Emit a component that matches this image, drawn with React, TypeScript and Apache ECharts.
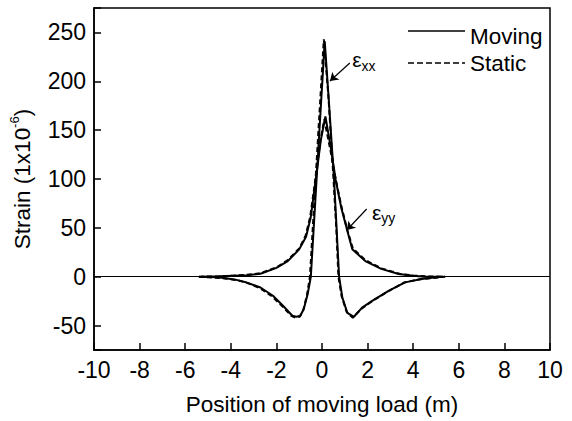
import React, { useEffect, useRef } from "react";
import * as echarts from "echarts";

const FONT = "Liberation Sans";

const xTicks = [-10, 10];
const yRange = [-75, 275];
const legendNames = ["Moving", "Static"];

const xxMovingX = [-5.3,-4.6,-4.2,-3.8,-3.3,-2.7,-2.15,-1.7,-1.3,-1.12,-0.95,-0.8,-0.63,-0.49,-0.3,-0.1,0.12,0.3,0.53,0.65,0.75,0.89,1.11,1.4,1.76,2.2,2.92,3.64,4.37,5.0,5.3];
const xxMovingY = [0,-0.5,-1.5,-3,-6,-11,-19.5,-30,-40,-41,-40,-33,-18,0,75,155,241,180,99,45,0,-21,-37,-41,-31.6,-24.7,-14.4,-5.8,-2.4,-0.5,0];

const xxStaticX = [-5.4,-4.7,-4.2,-3.7,-3.2,-2.7,-2.2,-1.75,-1.35,-1.15,-0.98,-0.82,-0.66,-0.53,-0.35,-0.15,0.08,0.28,0.5,0.63,0.72,0.86,1.08,1.35,1.72,2.2,2.9,3.6,4.3,5.0,5.4];
const xxStaticY = [0,-1,-2,-3.5,-7,-12,-20,-30,-40,-42,-41,-34,-19,0,72,152,243,185,102,48,0,-20,-36,-42,-33,-25,-15,-6,-2.5,-1,0];

const yyMovingX = [-5.3,-4.5,-3.9,-3.3,-2.7,-2.0,-1.5,-1.0,-0.7,-0.5,-0.27,-0.05,0.15,0.4,0.6,0.85,1.11,1.33,1.9,2.6,3.36,4.0,4.5,5.3];
const yyMovingY = [0,0.5,1,1.5,3,9,16,28,41,60,100,140,164,130,99,70,47,28,16,8,2.7,1,0,0];

const yyStaticX = [-5.4,-4.6,-3.9,-3.3,-2.7,-2.0,-1.5,-1.0,-0.72,-0.52,-0.3,-0.08,0.1,0.38,0.6,0.85,1.11,1.35,1.9,2.6,3.4,4.0,4.6,5.4];
const yyStaticY = [0,0.3,1,2,3.5,9.5,17,29,42,61,98,138,161,128,100,72,48,29,17,8.5,3,1.2,0.3,0];

const zip = (xs: number[], ys: number[]) => xs.map((x, i) => [x, ys[i]]);

const labelRich = {
  e: { fontSize: 21, fontFamily: FONT, color: "#000", lineHeight: 26, verticalAlign: "middle" },
  s: { fontSize: 14, fontFamily: FONT, color: "#000", lineHeight: 14, verticalAlign: "bottom" },
};

export default function App() {
  const ref = useRef<HTMLDivElement>(null);
  useEffect(() => {
    if (!ref.current) return;
    const chart = echarts.init(ref.current, undefined, { renderer: "svg" });
    const solid = { color: "#000", width: 2, type: "solid" as const };
    const dashed = { color: "#000", width: 2, type: [5, 3] as any };
    const legendText = { fontSize: 22.5, fontFamily: FONT, fill: "#000" };
    chart.setOption({
      animation: false,
      grid: { left: 90, right: 22, top: 8, bottom: 71, show: true, borderColor: "#000", borderWidth: 1.5, backgroundColor: "transparent" },
      graphic: [
        { type: "line", shape: { x1: 408, y1: 31, x2: 465, y2: 31 }, style: { stroke: "#000", lineWidth: 1.6 } },
        { type: "text", x: 470, y: 36, style: { ...legendText, text: legendNames[0], verticalAlign: "middle", align: "left" } },
        { type: "line", shape: { x1: 408, y1: 63, x2: 465, y2: 63 }, style: { stroke: "#000", lineWidth: 1.6, lineDash: [6, 3] } },
        { type: "text", x: 470, y: 63, style: { ...legendText, text: legendNames[1], verticalAlign: "middle", align: "left" } },
      ],
      xAxis: {
        type: "value",
        min: xTicks[0],
        max: xTicks[1],
        interval: 2,
        name: "Position of moving load (m)",
        nameLocation: "middle",
        nameGap: 43,
        nameTextStyle: { fontSize: 22.5, fontFamily: FONT, color: "#000" },
        axisLine: { onZero: false, lineStyle: { color: "#000", width: 1.5 } },
        axisTick: { inside: true, length: 7, lineStyle: { color: "#000", width: 1.5 } },
        axisLabel: { fontSize: 23, fontFamily: FONT, color: "#000", margin: 8 },
        splitLine: { show: false },
      },
      yAxis: {
        type: "value",
        min: yRange[0],
        max: yRange[1],
        splitNumber: 7,
        name: "{a|Strain (1x10}{b|-6}{a|)}",
        nameLocation: "middle",
        nameGap: 60,
        nameRotate: 90,
        nameTextStyle: {
          rich: {
            a: { fontSize: 22.5, fontFamily: FONT, color: "#000", lineHeight: 26, verticalAlign: "bottom" },
            b: { fontSize: 13, fontFamily: FONT, color: "#000", lineHeight: 14, verticalAlign: "top" },
          },
        },
        axisLine: { onZero: false, lineStyle: { color: "#000", width: 1.5 } },
        axisTick: { inside: true, length: 7, lineStyle: { color: "#000", width: 1.5 } },
        axisLabel: {
          fontSize: 23,
          fontFamily: FONT,
          color: "#000",
          margin: 8,
          formatter: (v: number) => (Math.abs(v % 50) < 1e-6 ? String(v) : ""),
        },
        splitLine: { show: false },
      },
      series: [
        {
          name: "Moving",
          type: "line",
          symbol: "none",
          data: zip(xxMovingX, xxMovingY),
          lineStyle: solid,
          itemStyle: { color: "#000" },
          z: 3,
          markLine: {
            silent: true,
            symbol: "none",
            label: { show: false },
            lineStyle: { color: "#000", width: 1.2, type: "solid" },
            data: [{ yAxis: 0 }],
          },
        },
        {
          name: "Static",
          type: "line",
          symbol: "none",
          data: zip(xxStaticX, xxStaticY),
          lineStyle: dashed,
          itemStyle: { color: "#000" },
          z: 2,
          markLine: {
            silent: true,
            symbol: ["none", "arrow"],
            symbolSize: 8,
            label: { show: false },
            lineStyle: { color: "#000", width: 1.2, type: "solid" },
            data: [
              [{ coord: [1.22, 218.7] }, { coord: [0.35, 200.3] }],
              [{ coord: [1.96, 69.3] }, { coord: [1.09, 47.8] }],
            ],
          },
        },
        {
          name: "Moving",
          type: "line",
          symbol: "none",
          data: zip(yyMovingX, yyMovingY),
          lineStyle: solid,
          itemStyle: { color: "#000" },
          z: 3,
          markPoint: {
            silent: true,
            symbol: "circle",
            symbolSize: 1,
            itemStyle: { color: "transparent" },
            label: { show: true, position: "right", distance: 0, rich: labelRich },
            data: [
              { coord: [1.3, 222], label: { formatter: "{e|ε}{s|xx}" } },
              { coord: [2.17, 66], label: { formatter: "{e|ε}{s|yy}" } },
            ],
          },
        },
        {
          name: "Static",
          type: "line",
          symbol: "none",
          data: zip(yyStaticX, yyStaticY),
          lineStyle: dashed,
          itemStyle: { color: "#000" },
          z: 2,
        },
      ],
    });
    return () => chart.dispose();
  }, []);
  return <div ref={ref} style={{ width: 572, height: 421, position: "absolute", left: 0, top: 0 }} />;
}
